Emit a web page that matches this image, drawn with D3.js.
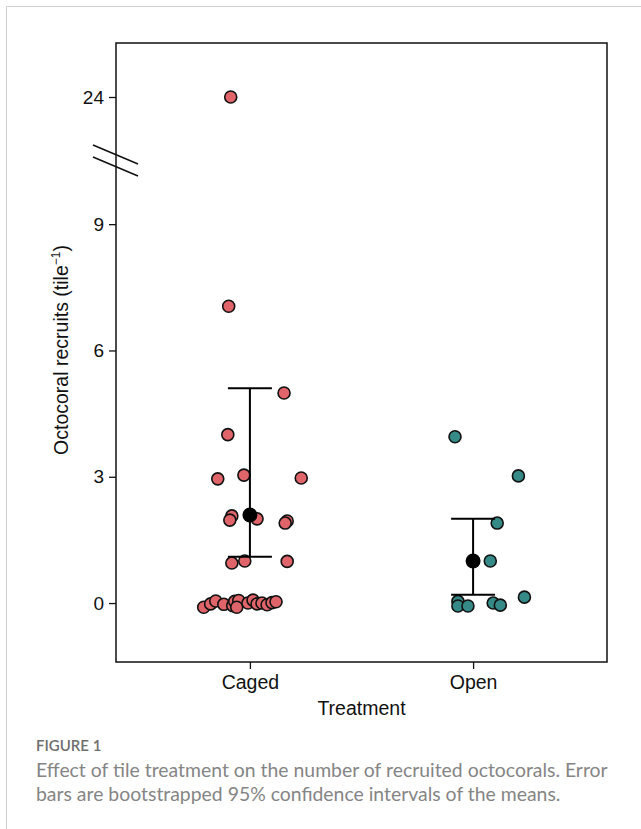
<!DOCTYPE html>
<html>
<head>
<meta charset="utf-8">
<script src="https://cdn.jsdelivr.net/npm/d3@7"></script>
<style>
  body { margin: 0; background: #fff; }
  svg text { font-family: "Liberation Sans", Arial, sans-serif; }
  svg text.cap { font-family: Lato, "Open Sans", sans-serif; }
</style>
</head>
<body>
<svg id="chart" width="641" height="829"></svg>
<script>
// categories and summary stats
var treatments = ["Caged", "Open"];
var means = [2.09, 1.0];
var ciLow = [1.1, 0.2];
var ciHigh = [5.1, 2.0];

// raw points: plotted value and horizontal jitter (fraction of category spacing)
var cagedValues = [24, 7.05, 4.99, 4.0, 2.95, 3.04, 2.97, 2.07, 1.97, 2.0, 1.95, 1.9, 0.95, 1.0, 0.99,
	-0.1, -0.02, 0.05, -0.03, -0.06, 0.04, 0.06, -0.1, 0.0, 0.07, -0.02, 0.0, -0.04, 0.01, 0.03];
var cagedJitter = [-0.086, -0.095, 0.153, -0.099, -0.144, -0.027, 0.23, -0.081, -0.09, 0.032, 0.167, 0.158, -0.081, -0.023, 0.167,
	-0.207, -0.176, -0.153, -0.117, -0.077, -0.068, -0.05, -0.059, -0.009, 0.014, 0.032, 0.054, 0.077, 0.099, 0.117];
var openValues = [3.95, 3.02, 1.9, 1.0, 0.14, 0.04, -0.07, -0.07, 0.0, -0.05];
var openJitter = [-0.081, 0.203, 0.108, 0.077, 0.23, -0.068, -0.068, -0.023, 0.09, 0.122];

var yTicksLow = [0, 3, 6, 9];
var yTicksHigh = [24];

var colors = { "Caged": "#e0656a", "Open": "#358a87" };

var svg = d3.select("#chart");

// card outline
svg.append("path")
	.attr("d", "M6.5,829 V6.5 H641")
	.attr("fill", "none")
	.attr("stroke", "#cfcfcf")
	.attr("stroke-width", 1);

var box = { left: 116, right: 607, top: 43, bottom: 662 };
var breakY = 161;

var x = d3.scalePoint()
	.domain(treatments)
	.range([box.left, box.right])
	.padding(0.6);
var step = x.step();

var yLow = d3.scaleLinear()
	.domain([-1.4, 10.5])
	.range([box.bottom, box.bottom - 11.9 * 42.1]);
var yHigh = d3.scaleLinear()
	.domain([22, 26])
	.range([97 + 2 * 42.1, 97 - 2 * 42.1]);

function y(v) { return v > 15 ? yHigh(v) : yLow(v); }

// plot frame
svg.append("rect")
	.attr("x", box.left).attr("y", box.top)
	.attr("width", box.right - box.left).attr("height", box.bottom - box.top)
	.attr("fill", "none")
	.attr("stroke", "#111")
	.attr("stroke-width", 1.5);

// y axis (two pieces, same left edge)
var yAxisLow = d3.axisLeft(yLow).tickValues(yTicksLow).tickSize(7).tickPadding(5).tickFormat(d3.format("d"));
var yAxisHigh = d3.axisLeft(yHigh).tickValues(yTicksHigh).tickSize(7).tickPadding(5).tickFormat(d3.format("d"));

[yAxisLow, yAxisHigh].forEach(function(ax) {
	var g = svg.append("g")
		.attr("transform", "translate(" + box.left + ",0)")
		.call(ax);
	g.select(".domain").remove();
	g.selectAll(".tick line").attr("stroke", "#111").attr("stroke-width", 1.3);
	g.selectAll(".tick text")
		.attr("fill", "#111")
		.style("font-size", "19px");
});

// axis break marks
svg.append("g")
	.selectAll("line")
	.data([-6, 6])
	.enter()
	.append("line")
	.attr("x1", box.left - 23).attr("y1", function(d) { return breakY + d - 10; })
	.attr("x2", box.left + 22).attr("y2", function(d) { return breakY + d + 9; })
	.attr("stroke", "#111")
	.attr("stroke-width", 1.5);

// x axis
var xAxis = d3.axisBottom(x).tickSize(7).tickPadding(6);
var gx = svg.append("g")
	.attr("transform", "translate(0," + box.bottom + ")")
	.call(xAxis);
gx.select(".domain").remove();
gx.selectAll(".tick line").attr("stroke", "#111").attr("stroke-width", 1.3);
gx.selectAll(".tick text").attr("fill", "#111").style("font-size", "19.5px");

// axis titles
svg.append("text")
	.attr("x", (box.left + box.right) / 2)
	.attr("y", 715)
	.attr("text-anchor", "middle")
	.style("font-size", "19.5px")
	.attr("fill", "#111")
	.text("Treatment");

var yl = svg.append("text")
	.attr("transform", "translate(68,350) rotate(-90)")
	.attr("text-anchor", "middle")
	.style("font-size", "19.5px")
	.attr("fill", "#111");
yl.append("tspan").text("Octocoral recruits (tile");
yl.append("tspan").attr("dy", -8).style("font-size", "12px").text("\u22121");
yl.append("tspan").attr("dy", 8).text(")");

// raw points
var points = [];
cagedValues.forEach(function(v, i) { points.push({ t: "Caged", v: v, j: cagedJitter[i] }); });
openValues.forEach(function(v, i) { points.push({ t: "Open", v: v, j: openJitter[i] }); });

svg.append("g")
	.selectAll("circle")
	.data(points)
	.enter()
	.append("circle")
	.attr("cx", function(d) { return x(d.t) + d.j * step; })
	.attr("cy", function(d) { return y(d.v); })
	.attr("r", 6)
	.attr("fill", function(d) { return colors[d.t]; })
	.attr("stroke", "#111")
	.attr("stroke-width", 1.6);

// error bars + means
var summ = treatments.map(function(t, i) { return { t: t, m: means[i], lo: ciLow[i], hi: ciHigh[i] }; });
var eb = svg.append("g").selectAll("g").data(summ).enter().append("g");
eb.append("line")
	.attr("x1", function(d) { return x(d.t); }).attr("x2", function(d) { return x(d.t); })
	.attr("y1", function(d) { return y(d.lo); }).attr("y2", function(d) { return y(d.hi); })
	.attr("stroke", "#000").attr("stroke-width", 2);
["lo", "hi"].forEach(function(k) {
	eb.append("line")
		.attr("x1", function(d) { return x(d.t) - 22; }).attr("x2", function(d) { return x(d.t) + 22; })
		.attr("y1", function(d) { return y(d[k]); }).attr("y2", function(d) { return y(d[k]); })
		.attr("stroke", "#000").attr("stroke-width", 2);
});
eb.append("circle")
	.attr("cx", function(d) { return x(d.t); })
	.attr("cy", function(d) { return y(d.m); })
	.attr("r", 7.5)
	.attr("fill", "#000");

// caption
svg.append("text")
	.attr("class", "cap")
	.attr("x", 36).attr("y", 751)
	.style("font-size", "15px")
	.style("font-weight", "600")
	.attr("fill", "#6e6e6e")
	.text("FIGURE 1");
svg.append("text")
	.attr("class", "cap")
	.attr("x", 36).attr("y", 777)
	.style("font-size", "19.4px")
	.attr("fill", "#858585")
	.text("Effect of tile treatment on the number of recruited octocorals. Error");
svg.append("text")
	.attr("class", "cap")
	.attr("x", 36).attr("y", 801)
	.style("font-size", "19.4px")
	.attr("fill", "#858585")
	.text("bars are bootstrapped 95% confidence intervals of the means.");
</script>
</body>
</html>
